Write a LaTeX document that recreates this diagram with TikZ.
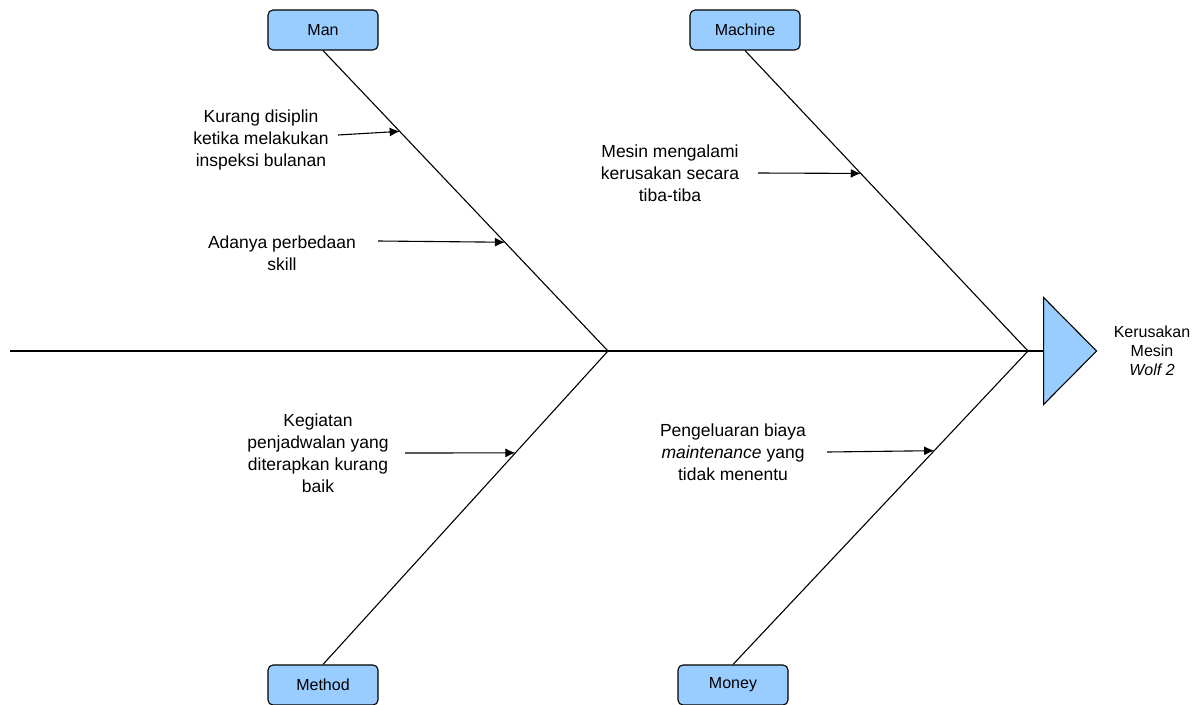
\documentclass[tikz,border=0pt]{standalone}
\usepackage{fontspec}
\setmainfont{Liberation Sans}
\usetikzlibrary{arrows.meta,shapes.geometric,positioning}
\definecolor{boxblue}{HTML}{99CCFF}

\begin{document}
\begin{tikzpicture}[x=1pt, y=-1pt, line width=1.1pt,
  every node/.style={font=\fontsize{17.5}{22}\selectfont},
  cat/.style={draw, rounded corners=5pt, fill=boxblue, minimum width=110pt, minimum height=40pt, inner sep=0pt, font=\fontsize{16}{18}\selectfont},
  head/.style={draw, fill=boxblue, isosceles triangle, isosceles triangle stretches, minimum width=107pt, minimum height=53pt, inner sep=0pt},
  cause/.style={align=center, inner sep=0pt},
  arr/.style={-{Latex[length=10pt,width=9pt]}},
]
\useasboundingbox (0,0) rectangle (1201,704);

\node[cat] (man) at (323,30) {Man};
\node[cat] (machine) at (745,30) {Machine};
\node[cat] (method) at (323,685) {Method};
\node[cat] (money) at (733,685) {Money};
\node[head, anchor=apex] (effect) at (1098,351) {};
\node[align=center, font=\fontsize{16}{19}\selectfont] (result) at (1152,351) {Kerusakan\\Mesin\\\textit{Wolf 2}};

\node[cause] (c1) at (261,140) {Kurang disiplin\\ketika melakukan\\inspeksi bulanan};
\node[cause] (c2) at (282,253) {Adanya perbedaan\\skill};
\node[cause] (c3) at (670,173) {Mesin mengalami\\kerusakan secara\\tiba-tiba};
\node[cause] (c4) at (318,453) {Kegiatan\\penjadwalan yang\\diterapkan kurang\\baik};
\node[cause] (c5) at (733,452) {Pengeluaran biaya\\\textit{maintenance} yang\\tidak menentu};

\coordinate (tail) at (10,351);
\coordinate (j1) at (608,351);
\coordinate (j2) at (1028,351);

\coordinate (t1) at (338,135);
\coordinate (t2) at (378,241);
\coordinate (t3) at (758,173);
\coordinate (t4) at (405,453);
\coordinate (t5) at (827,452);

% spine and bones
\draw (tail) -- (effect.lower side);
\draw (man.south) -- coordinate[pos=0.269] (m1) coordinate[pos=0.638] (m2) (j1);
\draw (method.north) -- coordinate[pos=0.675] (m4) (j1);
\draw (machine.south) -- coordinate[pos=0.409] (m3) (j2);
\draw (money.north) -- coordinate[pos=0.682] (m5) (j2);

% causes
\draw[arr] (t1) -- (m1);
\draw[arr] (t2) -- (m2);
\draw[arr] (t3) -- (m3);
\draw[arr] (t4) -- (m4);
\draw[arr] (t5) -- (m5);

\end{tikzpicture}
\end{document}
